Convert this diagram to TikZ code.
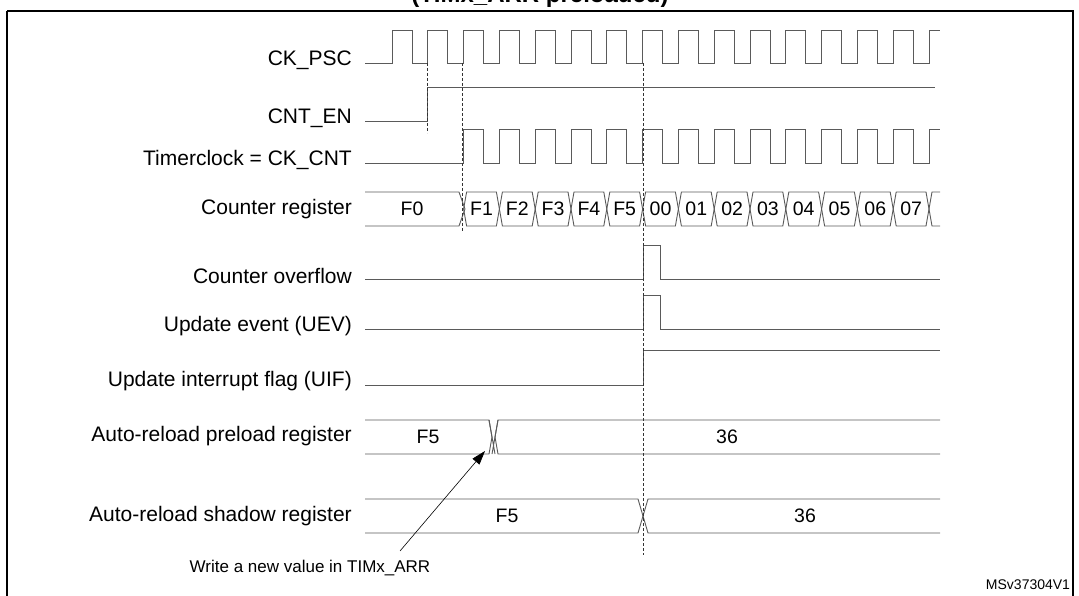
\documentclass[tikz,border=0pt]{standalone}
\usepackage{fontspec}
\setmainfont{Liberation Sans}
\usepackage{xcolor}
\definecolor{wavegray}{RGB}{90, 90, 90}
\usetikzlibrary{arrows.meta, positioning}

% bus cell between x-positions #1 and #2, band from #3 (top) to #4 (bottom)
\newcommand{\buscell}[4]{%
  \draw[wave] ({#1},{(#3+#4)/2}) -- ({#1+3},#3) -- ({#2-3},#3) -- ({#2},{(#3+#4)/2})
    -- ({#2-3},#4) -- ({#1+3},#4) -- cycle;}

\begin{document}
\begin{tikzpicture}[
        x=1pt, y=-1pt,
        every node/.style={font=\fontsize{21}{24}\selectfont},
        sig/.style={anchor=east, inner sep=0pt},
        cell/.style={font=\fontsize{19.5}{22}\selectfont, inner sep=0pt},
        wave/.style={draw=wavegray, line width=0.9pt},
        guide/.style={densely dashed, line width=0.7pt, color=black!80},
        arrow/.style={-{Triangle[length=14pt, width=9pt]}, line width=0.6pt}
    ]
        \useasboundingbox (0,0) rectangle (1079,596);

        % title and frame
        \node[font=\bfseries\fontsize{24}{26}\selectfont, anchor=base] (title) at (540,3) {(TIMx\_ARR preloaded)};
        \draw[line width=1.2pt] (7,11) -- (1073,11) -- (1073,600) (7,11) -- (7,600);

        % signal names
        \node[sig] (ckpsc) at (352,60) {CK\_PSC};
        \node[sig] (cnten) at (352,118) {CNT\_EN};
        \node[sig] (ckcnt) at (352,160) {Timerclock = CK\_CNT};
        \node[sig] (cntreg) at (352,209) {Counter register};
        \node[sig] (ovf) at (352,276) {Counter overflow};
        \node[sig] (uev) at (352,326) {Update event (UEV)};
        \node[sig] (uif) at (352,381) {Update interrupt flag (UIF)};
        \node[sig] (arrpre) at (352,436) {Auto-reload preload register};
        \node[sig] (arrsh) at (352,516) {Auto-reload shadow register};

        % CK_PSC
        \draw[wave] (365,63) -- (392,63)
            \foreach \k in {0,...,14} { -- ({392+35.8*\k},63) -- ({392+35.8*\k},30) -- ({412+35.8*\k},30) -- ({412+35.8*\k},63) }
            -- (929,63) -- (929,30) -- (940,30);

        % CNT_EN
        \draw[wave] (365,121) -- (427,121) -- (427,87) -- (935,87);

        % Timerclock
        \draw[wave] (365,163) -- (463.6,163)
            \foreach \k in {2,...,14} { -- ({392+35.8*\k},163) -- ({392+35.8*\k},129) -- ({412+35.8*\k},129) -- ({412+35.8*\k},163) }
            -- (929,163) -- (929,129) -- (940,129);

        % Counter register
        \draw[wave] (365,192) -- (459,192) -- (465,209) -- (459,226) -- (365,226);
        \node[cell] (cf0) at (412,209) {F0};
        \foreach \v [count=\k from 2] in {F1,F2,F3,F4,F5,00,01,02,03,04,05,06,07} {
            \buscell{392+35.8*\k}{392+35.8*(\k+1)}{192}{226}
            \node[cell] (c\k) at ({392+35.8*(\k+0.5)},209) {\v};
        }
        \draw[wave] (940,192) -- (932,192) -- (929,209) -- (932,226) -- (940,226);

        % Counter overflow, UEV, UIF
        \draw[wave] (365,279) -- (643,279) -- (643,245) -- (660,245) -- (660,279) -- (940,279);
        \draw[wave] (365,329) -- (643,329) -- (643,295) -- (660,295) -- (660,329) -- (940,329);
        \draw[wave] (365,385) -- (643,385) -- (643,350) -- (940,350);

        % Auto-reload preload
        \draw[wave] (365,420) -- (489,420) -- (492,437) -- (489,454) -- (365,454);
        \draw[wave] (940,420) -- (498,420) -- (495,437) -- (498,454) -- (940,454);
        \draw[wave] (489,420) -- (495,454) (498,420) -- (492,454);
        \node[cell] (pf5) at (428,437) {F5};
        \node[cell] (p36) at (727,437) {36};

        % Auto-reload shadow
        \draw[wave] (365,499) -- (638,499) -- (643,516) -- (638,533) -- (365,533);
        \draw[wave] (940,499) -- (648,499) -- (643,516) -- (648,533) -- (940,533);
        \node[cell] (sf5) at (507,516) {F5};
        \node[cell] (s36) at (805,516) {36};

        % guides
        \draw[guide] (427,63) -- (427,133);
        \draw[guide] (462,63) -- (462,232);
        \draw[guide] (643,63) -- (643,555);

        % annotation
        \node[font=\fontsize{17}{19}\selectfont] (note) at (310,568) {Write a new value in TIMx\_ARR};
        \coordinate (tail) at (400,551);
        \coordinate (tip) at (485,451);
        \draw[arrow] (tail) -- (tip);
        \node[font=\fontsize{14}{16}\selectfont] (ref) at (1028,585) {MSv37304V1};

    \end{tikzpicture}
\end{document}
